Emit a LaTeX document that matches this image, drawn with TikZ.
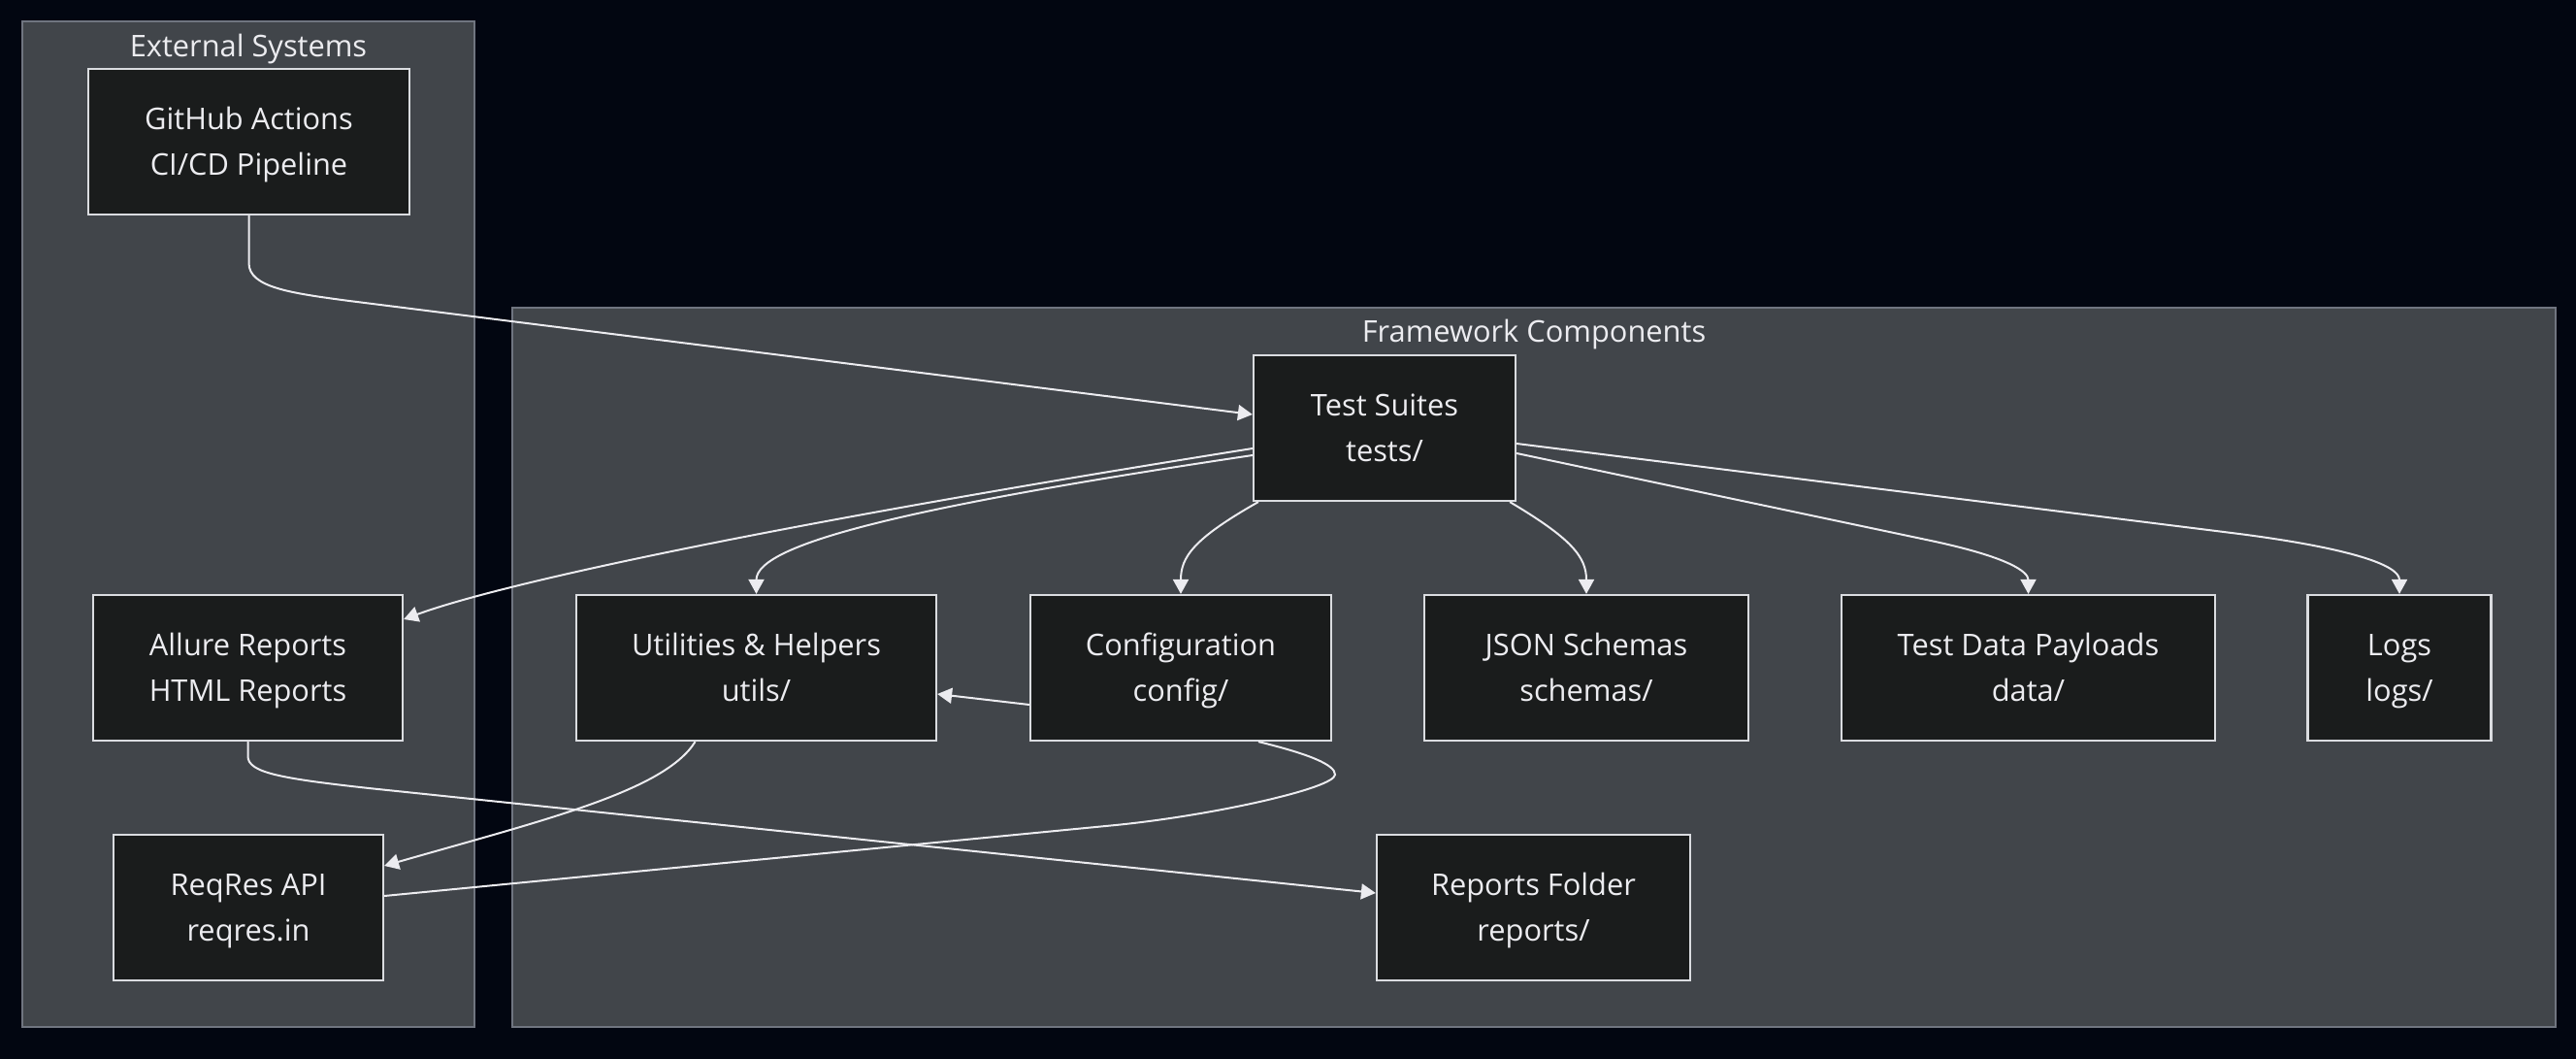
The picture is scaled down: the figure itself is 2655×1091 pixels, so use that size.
\documentclass[tikz,border=0pt]{standalone}
\usepackage{fontspec}
\setmainfont{Open Sans}
\usetikzlibrary{arrows.meta,calc}
\definecolor{bgcol}{RGB}{2,6,17}
\definecolor{clfill}{RGB}{65,69,74}
\definecolor{cldraw}{RGB}{112,117,128}
\definecolor{ndfill}{RGB}{26,28,28}
\definecolor{nddraw}{RGB}{218,220,224}
\definecolor{txtcol}{RGB}{236,236,240}
\definecolor{lncol}{RGB}{236,236,240}
\newcommand{\twoline}[2]{\rule{0pt}{18.5pt}#1\\\strut #2}
\tikzset{
  box/.style={draw=nddraw,fill=ndfill,line width=1.1pt,inner sep=0pt,align=center,
    text=txtcol,font=\fontsize{15.4}{23.5}\selectfont,minimum height=75pt},
  cluster/.style={draw=cldraw,fill=clfill,line width=0.7pt},
  ctitle/.style={text=txtcol,font=\fontsize{15.4}{23.5}\selectfont,inner sep=0pt},
  edge/.style={draw=lncol,line width=1pt},
  arr/.style={edge,-{Triangle[length=7.5pt,width=8pt]}}
}
\begin{document}
\begin{tikzpicture}[x=0.5pt,y=-0.5pt]
\fill[bgcol] (0,0) rectangle (2655,1091);
\useasboundingbox (0,0) rectangle (2655,1091);
% clusters
\draw[cluster] (23,22) rectangle (489,1058);
\draw[cluster] (528,317) rectangle (2634,1058);
\node[ctitle] (extt) at (256,51) {External Systems};
\node[ctitle] (fwt) at (1581,344) {Framework Components};
% nodes
\node[box,minimum width=165.5pt] (gh) at (256.5,146) {\twoline{GitHub Actions}{CI/CD Pipeline}};
\node[box,minimum width=135pt] (ts) at (1427,441) {\twoline{Test Suites}{tests/}};
\node[box,minimum width=159.5pt] (allure) at (255.5,688) {\twoline{Allure Reports}{HTML Reports}};
\node[box,minimum width=139pt] (reqres) at (256,935) {\twoline{ReqRes API}{reqres.in}};
\node[box,minimum width=185.5pt] (utils) at (779.5,688) {\twoline{Utilities \& Helpers}{utils/}};
\node[box,minimum width=155pt] (config) at (1217,688) {\twoline{Configuration}{config/}};
\node[box,minimum width=167pt] (json) at (1635,688) {\twoline{JSON Schemas}{schemas/}};
\node[box,minimum width=192.5pt] (data) at (2090.5,688) {\twoline{Test Data Payloads}{data/}};
\node[box,minimum width=94.5pt] (logs) at (2473,688) {\twoline{Logs}{logs/}};
\node[box,minimum width=161.5pt] (reports) at (1580.5,935) {\twoline{Reports Folder}{reports/}};
% edges
\draw[arr] (gh.south) -- ($(gh.south)+(0,49)$) .. controls ($(gh.south)+(0,74)$) and (300,302) .. (360,310) -- ($(ts.west)+(0,-14)$);
\draw[arr] ($(ts.west)+(0,21)$) .. controls (800,540) and (520,600) .. ($(allure.east)+(0,-50)$);
\draw[arr] ($(ts.west)+(0,28)$) .. controls (950,520) and ($(utils.north)+(0,-53)$) .. (utils.north);
\draw[arr] ($(ts.south west)+(6,0)$) .. controls (1230,555) and ($(config.north)+(0,-38)$) .. (config.north);
\draw[arr] ($(ts.south east)+(-7,0)$) .. controls (1620,555) and ($(json.north)+(0,-38)$) .. (json.north);
\draw[arr] ($(ts.east)+(0,26)$) -- (1990,557) .. controls (2070,574) and ($(data.north)+(0,-23)$) .. (data.north);
\draw[arr] ($(ts.east)+(0,16)$) -- (2300,549) .. controls (2420,564) and ($(logs.north)+(0,-30)$) .. (logs.north);
\draw[arr] ($(config.west)+(0,38)$) -- ($(utils.east)+(0,27)$);
\draw[arr] ($(utils.south)+(-63,0)$) .. controls (685,815) and (560,845) .. ($(reqres.east)+(0,-43)$);
\draw[edge] ($(config.south)+(80,0)$) .. controls (1350,777) and (1376,788) .. (1376,798) .. controls (1376,812) and (1250,840) .. (1150,850) -- ($(reqres.east)+(0,-12)$);
\draw[arr] (allure.south) -- ($(allure.south)+(0,15)$) .. controls ($(allure.south)+(0,32)$) and (290,802) .. (380,812) -- ($(reports.west)+(0,-15)$);
\end{tikzpicture}
\end{document}
